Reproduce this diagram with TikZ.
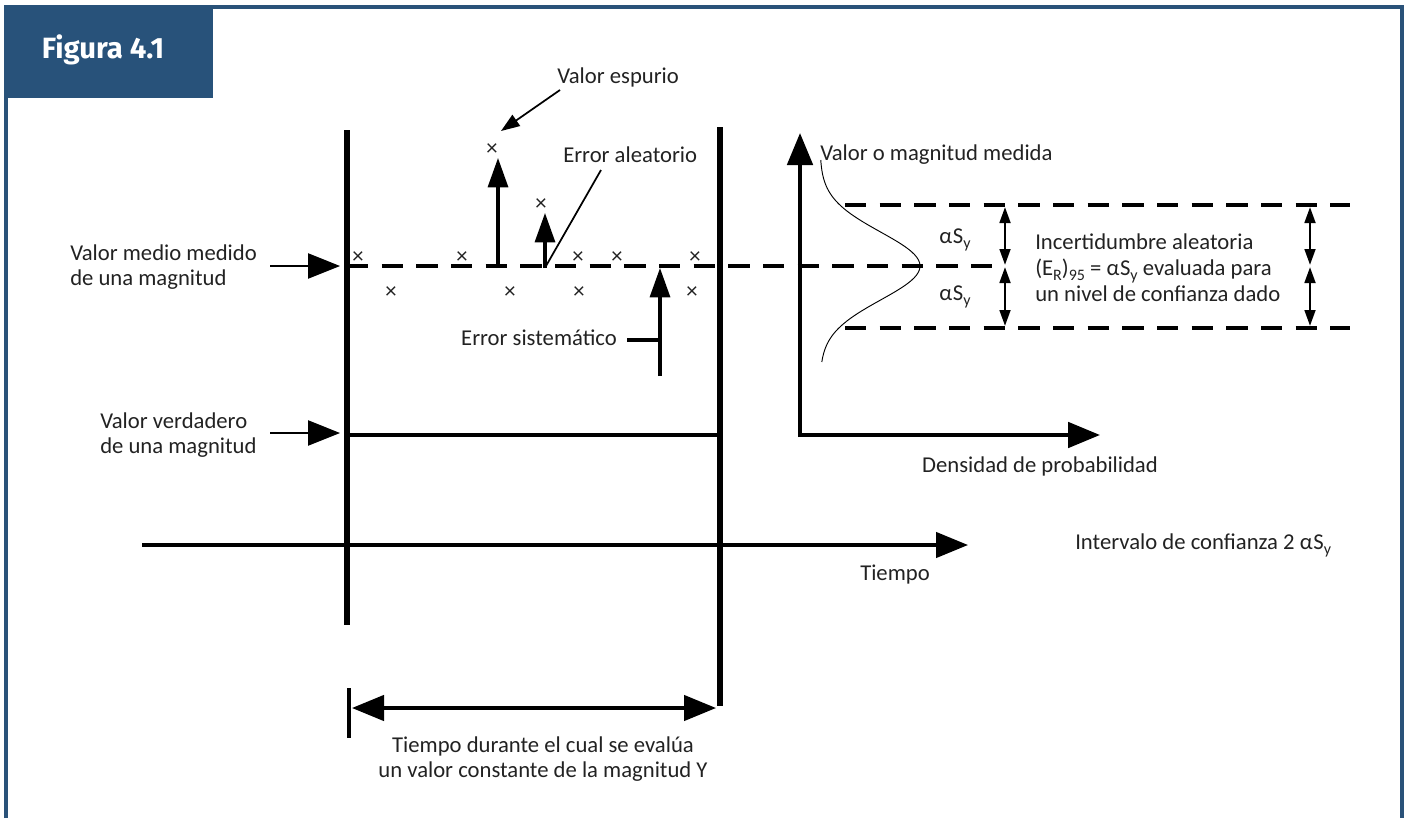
\documentclass[tikz,border=0pt]{standalone}
\usepackage{fontspec}
\setmainfont{Carlito}
\newfontfamily\titlefont{Fira Sans}
\usetikzlibrary{arrows.meta}
\definecolor{frameblue}{HTML}{2A5279}
\definecolor{titleblue}{HTML}{28527A}
\definecolor{txt}{HTML}{222222}
\newcommand\aSy{α\kern0.5pt S\raisebox{-0.45ex}{\fontsize{12}{12}\selectfont y}}
\newcommand\ERn{(E\raisebox{-0.45ex}{\fontsize{12}{12}\selectfont R})\raisebox{-0.45ex}{\fontsize{12}{12}\selectfont 95}}
\tikzset{
  lbl/.style={inner sep=0pt, text=txt, font=\fontsize{17}{19}\selectfont},
  cross/.style={inner sep=0pt, text=txt, font=\fontsize{17}{17}\selectfont},
  bigbar/.style={line width=3.8pt},
  axisline/.style={line width=3pt},
  dashline/.style={line width=3pt, dash pattern=on 16pt off 10pt},
  bigtip/.style={-{Triangle[length=24pt,width=19pt]}},
  uptip/.style={line width=2.4pt,-{Triangle[length=22pt,width=15pt]}},
  ptr/.style={line width=0.9pt,-{Triangle[length=24pt,width=19pt]}},
  thinptr/.style={line width=1.3pt,-{Triangle[length=14pt,width=10pt]}},
  dbl/.style={line width=2pt,{Triangle[length=12pt,width=8pt]}-{Triangle[length=12pt,width=8pt]}},
}
\begin{document}
\begin{tikzpicture}[x=0.75pt,y=-0.75pt]
\useasboundingbox (0,0) rectangle (1407,818);
% frame and title
\draw[frameblue, line width=2.4pt] (6,818) -- (6,7) -- (1402,7) -- (1402,818);
\fill[titleblue] (5,5) rectangle (213,98);
\node[text=white, font=\titlefont\bfseries\fontsize{22}{24}\selectfont, inner sep=0pt] (title) at (103,50) {Figura 4.1};

% main verticals
\coordinate (L1) at (347,130); \coordinate (L2) at (347,625);
\coordinate (R1) at (720,127); \coordinate (R2) at (720,706);
\draw[bigbar] (L1) -- (L2);
\draw[bigbar] (R1) -- (R2);

% mean dashed line and band
\coordinate (m0) at (347,266); \coordinate (m1) at (1005,266);
\draw[dashline] (m0) -- (m1);
\coordinate (u0) at (845,205); \coordinate (u1) at (1350,205);
\coordinate (d0) at (845,328); \coordinate (d1) at (1350,328);
\draw[dashline] (u0) -- (u1);
\draw[dashline] (d0) -- (d1);

% true value
\coordinate (t0) at (345,435); \coordinate (t1) at (723,435);
\draw[line width=3.2pt] (t0) -- (t1);

% probability axes
\coordinate (o) at (800,435); \coordinate (oy) at (800,133); \coordinate (ox) at (1100,435);
\draw[axisline, bigtip] ([yshift=-1.5pt]o) -- (oy);
\draw[axisline, bigtip] ([xshift=-1.5pt]o) -- (ox);
\draw[line width=0.7pt, smooth, samples=80, domain=160:362, variable=\y]
  plot ({820+100*exp(-((\y-266)/48)^2)}, \y);

% time axis
\coordinate (ta) at (142,545); \coordinate (tb) at (968,545);
\draw[line width=2.6pt, bigtip] (ta) -- (tb);

% bottom interval
\coordinate (k1) at (349,688); \coordinate (k2) at (349,738);
\draw[line width=3.2pt] (k1) -- (k2);
\coordinate (b0) at (352,708); \coordinate (b1) at (716,708);
\draw[line width=2.6pt, {Triangle[length=24pt,width=19pt]}-{Triangle[length=24pt,width=19pt]}] (b0) -- (b1);

% double arrows
\foreach \xx in {1005,1310}{
  \draw[dbl] (\xx,207) -- (\xx,265);
  \draw[dbl] (\xx,267) -- (\xx,326);
}

% crosses
\foreach \p/\n in {{(358,258)}/c1,{(462,258)}/c2,{(578,258)}/c3,{(617,258)}/c4,{(695,258)}/c5,{(391,293)}/c6,{(510,293)}/c7,{(579,293)}/c8,{(692,293)}/c9,{(492,150)}/cs,{(541,205)}/cr}
  \node[cross] (\n) at \p {×};

% error arrows
\coordinate (s0) at (498,268); \coordinate (s1) at (498,158);
\draw[uptip] (s0) -- (s1);
\coordinate (r0) at (545,268); \coordinate (r1) at (545,213);
\draw[uptip] (r0) -- (r1);
\coordinate (e0) at (660,376); \coordinate (e1) at (660,268);
\draw[uptip] (e0) -- (e1);

% labels
\node[lbl, anchor=west] (espurio) at (557,77) {Valor espurio};
\coordinate (esp0) at (560,90); \coordinate (esp1) at (501,131);
\draw[thinptr] (esp0) -- (esp1);

\node[lbl, anchor=west] (aleat) at (563,155) {Error aleatorio};
\coordinate (al0) at (601,170); \coordinate (al1) at (546,266);
\draw[line width=1.3pt] (al0) -- (al1);

\node[lbl, anchor=east] (sist) at (617,338) {Error sistemático};
\coordinate (si0) at (627,340); \coordinate (si1) at (660,340);
\draw[line width=3pt] (si0) -- (si1);

\node[lbl, anchor=west, align=left] (medio) at (70,267) {Valor medio medido\\de una magnitud};
\coordinate (mp0) at (270,266); \coordinate (mp1) at (340,266);
\draw[ptr] (mp0) -- (mp1);

\node[lbl, anchor=west, align=left] (verd) at (100,435) {Valor verdadero\\de una magnitud};
\coordinate (vp0) at (270,433); \coordinate (vp1) at (340,433);
\draw[ptr] (vp0) -- (vp1);

\node[lbl, anchor=west] (vmag) at (820,155) {Valor o magnitud medida};
\node[lbl] (as1) at (955,240) {\aSy};
\node[lbl] (as2) at (955,297) {\aSy};
\node[lbl, anchor=west, align=left, font=\fontsize{17}{19.5}\selectfont] (inc) at (1035,268) {Incertidumbre aleatoria\\\ERn{} = \aSy{} evaluada para\\un nivel de confianza dado};
\node[lbl] (dens) at (1040,466) {Densidad de probabilidad};
\node[lbl, anchor=west] (interv) at (1075,545) {Intervalo de confianza 2 \aSy};
\node[lbl] (tiempo) at (895,575) {Tiempo};
\node[lbl, align=center] (durante) at (543,759) {Tiempo durante el cual se evalúa\\un valor constante de la magnitud Y};
\end{tikzpicture}
\end{document}
